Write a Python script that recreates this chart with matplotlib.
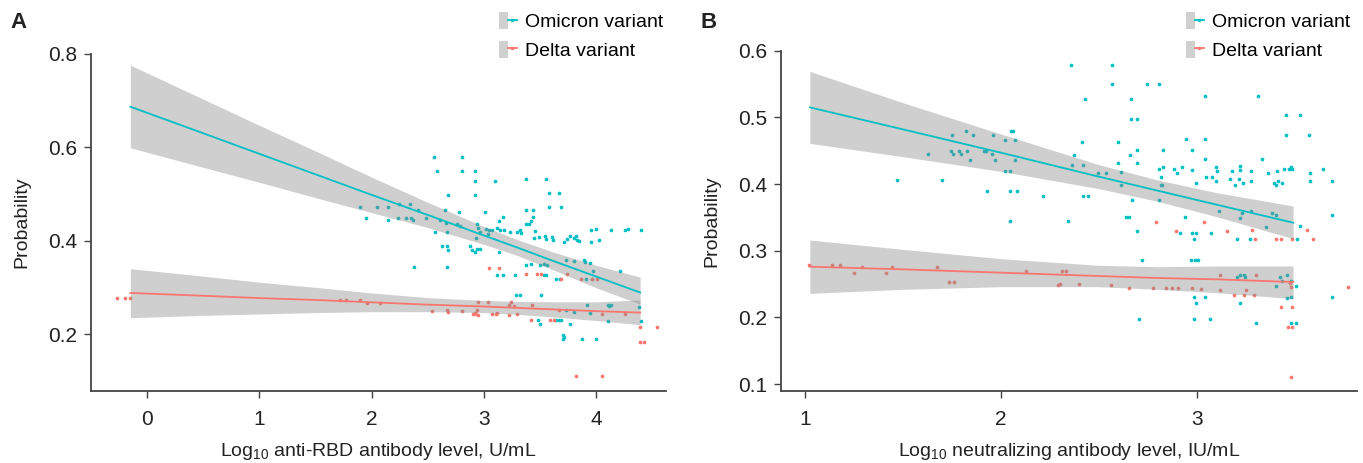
import matplotlib
matplotlib.use("Agg")
import matplotlib.pyplot as plt
from matplotlib.patches import Patch
from matplotlib.lines import Line2D
from matplotlib.legend_handler import HandlerTuple

plt.rcParams['font.family'] = ['Liberation Sans', 'DejaVu Sans']
plt.rcParams['mathtext.default'] = 'regular'

TEAL = '#00BFC4'
RED = '#F8766D'

# ---------------- Panel A data ----------------
a_omi_x = [2.556, 2.800, 2.583, 2.800, 2.922, 2.922, 3.094, 2.681, 2.922, 3.370, 3.551, 3.575, 3.664,
           3.575, 3.682, 1.894, 2.043, 2.144, 2.239, 2.337, 2.411, 1.951, 2.144, 2.230, 2.307, 2.352,
           2.369, 2.485, 2.610, 2.654, 2.776, 2.657, 2.758, 2.782, 2.562, 2.669, 2.937, 2.942, 2.960,
           3.008, 3.040, 3.070, 3.032, 3.115, 3.145, 3.130, 3.165, 3.180, 3.228, 3.293, 3.323, 3.329,
           3.370, 3.435, 3.376, 3.400, 3.418, 3.432, 3.456, 3.441, 3.492, 3.545, 3.551, 3.608, 3.614,
           3.709, 3.738, 3.768, 3.798, 3.815, 3.827, 3.845, 3.952, 4.000, 3.952, 4.023, 4.127, 4.258,
           4.279, 4.398, 2.925, 3.014, 2.625, 2.669, 2.681, 2.871, 2.892, 2.937, 2.960, 2.922, 3.130,
           2.378, 2.669, 3.115, 3.165, 3.272, 3.376, 3.421, 3.495, 3.536, 3.560, 3.536, 3.554, 3.643,
           3.679, 3.732, 3.798, 3.893, 3.902, 3.940, 3.970, 4.208, 3.908, 3.961, 3.281, 3.323, 3.510,
           3.732, 3.804, 3.917, 3.940, 4.101, 4.116, 4.130, 4.377, 4.398, 4.101, 3.643, 3.664, 3.685,
           3.477, 3.495, 3.762, 3.703, 3.715, 3.703, 3.872, 4.000]
a_omi_y = [0.579, 0.579, 0.549, 0.549, 0.549, 0.528, 0.528, 0.498, 0.498, 0.532, 0.532, 0.503, 0.503,
           0.473, 0.473, 0.473, 0.473, 0.473, 0.478, 0.478, 0.466, 0.448, 0.445, 0.448, 0.448, 0.448,
           0.445, 0.448, 0.445, 0.466, 0.462, 0.438, 0.435, 0.432, 0.418, 0.418, 0.435, 0.427, 0.418,
           0.462, 0.423, 0.423, 0.415, 0.427, 0.422, 0.443, 0.450, 0.422, 0.418, 0.419, 0.423, 0.416,
           0.466, 0.466, 0.436, 0.436, 0.443, 0.451, 0.420, 0.405, 0.407, 0.409, 0.404, 0.408, 0.402,
           0.397, 0.404, 0.409, 0.406, 0.409, 0.402, 0.400, 0.422, 0.425, 0.398, 0.401, 0.422, 0.422,
           0.425, 0.422, 0.405, 0.425, 0.388, 0.388, 0.381, 0.388, 0.381, 0.382, 0.382, 0.376, 0.375,
           0.344, 0.344, 0.327, 0.327, 0.327, 0.348, 0.351, 0.348, 0.351, 0.348, 0.327, 0.327, 0.317,
           0.317, 0.358, 0.356, 0.358, 0.354, 0.352, 0.336, 0.336, 0.317, 0.317, 0.284, 0.284, 0.284,
           0.252, 0.247, 0.262, 0.245, 0.263, 0.261, 0.263, 0.259, 0.227, 0.227, 0.231, 0.231, 0.231,
           0.230, 0.222, 0.222, 0.197, 0.194, 0.190, 0.190, 0.190]

a_del_x = [-0.27, -0.20, -0.15, 1.719, 1.767, 1.897, 1.957, 2.069, 2.536, 2.669, 2.675, 2.806, 2.901,
           2.919, 2.931, 2.945, 2.945, 3.032, 3.070, 3.109, 3.222, 3.240, 3.222, 3.293, 3.424, 3.418,
           3.590, 3.620, 3.664, 3.738, 3.863, 3.961, 4.006, 4.053, 4.258, 3.046, 3.136, 3.370, 3.471,
           3.510, 3.685, 4.392, 4.540, 4.392, 4.428, 3.821, 4.053, 2.937, 3.115, 3.263]
a_del_y = [0.278, 0.278, 0.278, 0.274, 0.274, 0.274, 0.267, 0.267, 0.249, 0.252, 0.247, 0.249, 0.244,
           0.245, 0.244, 0.269, 0.240, 0.269, 0.244, 0.244, 0.262, 0.269, 0.240, 0.244, 0.262, 0.231,
           0.231, 0.231, 0.252, 0.328, 0.317, 0.317, 0.317, 0.244, 0.244, 0.342, 0.342, 0.329, 0.329,
           0.329, 0.317, 0.215, 0.215, 0.184, 0.184, 0.110, 0.110, 0.252, 0.245, 0.261]

# fitted lines and 95% bands, panel A
a_fit_x = [-0.15, 0.5, 1.0, 1.5, 2.0, 2.5, 3.0, 3.3, 3.6, 4.0, 4.39]
a_omi_fit = [0.687, 0.630, 0.586, 0.542, 0.498, 0.455, 0.411, 0.385, 0.358, 0.323, 0.289]
a_omi_lo = [0.599, 0.557, 0.525, 0.492, 0.460, 0.428, 0.392, 0.368, 0.339, 0.299, 0.264]
a_omi_hi = [0.776, 0.703, 0.647, 0.592, 0.536, 0.482, 0.430, 0.402, 0.377, 0.347, 0.322]
a_del_fit = [0.288, 0.282, 0.277, 0.273, 0.268, 0.263, 0.259, 0.256, 0.253, 0.249, 0.246]
a_del_lo = [0.235, 0.240, 0.243, 0.246, 0.248, 0.248, 0.246, 0.242, 0.237, 0.229, 0.220]
a_del_hi = [0.340, 0.324, 0.311, 0.300, 0.288, 0.278, 0.272, 0.270, 0.269, 0.269, 0.273]

# ---------------- Panel B data ----------------
b_omi_x = [1.469, 1.699, 1.628, 1.752, 1.747, 1.757, 1.786, 1.795, 1.822, 1.825, 1.840, 1.859, 1.913,
           1.924, 1.930, 1.954, 1.958, 1.968, 2.019, 2.022, 2.046, 2.046, 2.046, 2.051, 2.059, 2.070,
           2.073, 2.080, 2.216, 2.343, 2.355, 2.360, 2.370,
           2.567, 2.567, 2.431, 2.744, 2.805, 2.661, 2.661, 2.695, 3.041, 3.313, 2.414, 2.598, 2.943,
           3.041, 2.657, 2.695, 2.829, 2.973, 3.041, 2.598, 2.695, 2.418, 2.808, 2.825, 2.817, 2.885,
           2.900, 2.922, 2.973, 3.095, 3.104, 3.048, 3.078, 3.099, 2.997, 2.613, 2.610, 2.494, 2.538,
           2.820, 3.180, 3.218, 3.221, 3.167, 3.214, 3.192, 3.233, 3.275, 3.277, 3.333, 3.360, 3.391,
           3.404, 3.411, 3.409, 3.435, 3.443, 3.469, 3.479, 3.486, 3.455, 3.527, 3.455, 3.571, 3.578,
           3.578, 3.642, 3.690, 3.690, 2.420, 2.443, 2.669, 2.808, 2.817, 2.640, 2.654, 2.695, 2.941,
           3.111, 3.221, 3.230, 3.277, 3.384, 3.403, 3.352, 2.912, 2.975, 2.997, 2.983, 3.073, 3.204,
           3.269, 2.720, 2.970, 2.992, 3.004, 3.204, 3.221, 3.238, 3.243, 3.425, 3.432, 3.459, 3.403,
           3.503, 3.460, 3.481, 2.983, 3.041, 2.995, 3.221, 2.703, 2.987, 3.068, 3.299, 3.479, 3.506,
           3.691, 3.527, 3.510, 3.481]
b_omi_y = [0.406, 0.406, 0.445, 0.473, 0.449, 0.445, 0.449, 0.445, 0.479, 0.449, 0.436, 0.473, 0.449,
           0.449, 0.390, 0.445, 0.473, 0.436, 0.466, 0.419, 0.419, 0.390, 0.344, 0.479, 0.479, 0.466,
           0.436, 0.390, 0.382, 0.344, 0.579, 0.428, 0.443,
           0.579, 0.550, 0.528, 0.550, 0.550, 0.528, 0.498, 0.498, 0.532, 0.532, 0.463, 0.463, 0.467,
           0.467, 0.443, 0.451, 0.451, 0.451, 0.437, 0.432, 0.432, 0.428, 0.423, 0.425, 0.410, 0.423,
           0.417, 0.425, 0.421, 0.425, 0.419, 0.410, 0.410, 0.405, 0.401, 0.399, 0.418, 0.417, 0.417,
           0.399, 0.420, 0.421, 0.427, 0.408, 0.408, 0.398, 0.401, 0.420, 0.405, 0.437, 0.417, 0.402,
           0.398, 0.405, 0.420, 0.402, 0.423, 0.423, 0.426, 0.423, 0.504, 0.504, 0.473, 0.473, 0.417,
           0.405, 0.423, 0.405, 0.353, 0.382, 0.382, 0.376, 0.376, 0.399, 0.351, 0.351, 0.329, 0.350,
           0.359, 0.349, 0.357, 0.359, 0.357, 0.353, 0.336, 0.327, 0.327, 0.327, 0.318, 0.327, 0.318,
           0.318, 0.286, 0.286, 0.286, 0.286, 0.260, 0.263, 0.263, 0.260, 0.260, 0.254, 0.263, 0.247,
           0.247, 0.229, 0.231, 0.231, 0.231, 0.222, 0.222, 0.198, 0.198, 0.198, 0.192, 0.192, 0.192,
           0.231, 0.337, 0.318, 0.255]

b_del_x = [1.020, 1.137, 1.180, 1.250, 1.290, 1.412, 1.446, 1.672, 1.735, 1.761, 2.127, 2.290, 2.299,
           2.312, 2.331, 2.399, 2.793, 3.038, 2.895, 3.155, 3.279, 3.561, 3.294, 3.401, 3.430, 3.483,
           3.590, 3.116, 3.299, 3.119, 3.252, 3.187, 3.238, 3.289, 3.481, 3.476, 3.430, 3.484, 3.466,
           3.486, 3.479, 3.770, 2.559, 2.654, 2.776, 2.841, 2.873, 2.904, 2.975, 3.021]
b_del_y = [0.279, 0.279, 0.279, 0.267, 0.276, 0.267, 0.276, 0.276, 0.253, 0.253, 0.270, 0.248, 0.250,
           0.270, 0.270, 0.250, 0.343, 0.343, 0.330, 0.330, 0.331, 0.331, 0.318, 0.318, 0.318, 0.318,
           0.318, 0.263, 0.263, 0.241, 0.241, 0.233, 0.233, 0.233, 0.245, 0.252, 0.216, 0.216, 0.185,
           0.185, 0.111, 0.245, 0.248, 0.244, 0.244, 0.244, 0.244, 0.244, 0.244, 0.242]

b_fit_x = [1.025, 1.5, 2.0, 2.5, 2.8, 3.1, 3.49]
b_omi_fit = [0.515, 0.482, 0.447, 0.411, 0.390, 0.369, 0.342]
b_omi_lo = [0.461, 0.441, 0.419, 0.393, 0.374, 0.351, 0.318]
b_omi_hi = [0.569, 0.522, 0.475, 0.429, 0.406, 0.387, 0.367]
b_del_fit = [0.276, 0.272, 0.267, 0.262, 0.259, 0.257, 0.253]
b_del_lo = [0.236, 0.242, 0.246, 0.246, 0.242, 0.237, 0.228]
b_del_hi = [0.316, 0.302, 0.288, 0.278, 0.276, 0.277, 0.277]

a_xticks = [0, 1, 2, 3, 4]
a_yticks = [0.2, 0.4, 0.6, 0.8]
b_xticks = [1, 2, 3]
b_yticks = [0.1, 0.2, 0.3, 0.4, 0.5, 0.6]
legend_labels = ['Omicron variant', 'Delta variant']
a_xlabel = 'Log$_{10}$ anti-RBD antibody level, U/mL'
b_xlabel = 'Log$_{10}$ neutralizing antibody level, IU/mL'

fig = plt.figure(figsize=(13.63, 4.63), dpi=100)
axA = fig.add_axes([0.0668, 0.1555, 0.4218, 0.728])
axB = fig.add_axes([0.573, 0.1555, 0.4226, 0.735])

LABEL_FONT = ['Liberation Sans', 'DejaVu Sans']
LABEL_SIZE = 14


def draw(ax, omi_x, omi_y, del_x, del_y, fx, ofit, olo, ohi, dfit, dlo, dhi,
         xlim, ylim, xticks, yticks, xlabel):
    ax.scatter(omi_x, omi_y, s=7, color=TEAL, linewidths=0, zorder=2)
    ax.scatter(del_x, del_y, s=7, color=RED, linewidths=0, zorder=2)
    ax.fill_between(fx, olo, ohi, color='#888888', alpha=0.4, linewidth=0, zorder=3)
    ax.fill_between(fx, dlo, dhi, color='#888888', alpha=0.4, linewidth=0, zorder=3)
    ax.plot(fx, ofit, color=TEAL, lw=1.3, zorder=4)
    ax.plot(fx, dfit, color=RED, lw=1.3, zorder=4)
    ax.set_xlim(*xlim)
    ax.set_ylim(*ylim)
    ax.set_xticks(xticks)
    ax.set_xticklabels([str(t) for t in xticks])
    ax.set_yticks(yticks)
    ax.set_yticklabels([f'{t:.1f}' for t in yticks])
    for side in ('top', 'right'):
        ax.spines[side].set_visible(False)
    for side in ('left', 'bottom'):
        ax.spines[side].set_color('#444444')
        ax.spines[side].set_linewidth(1.3)
    ax.spines['left'].set_bounds(ylim[0], yticks[-1])
    ax.tick_params(axis='both', labelsize=15, length=5, width=1, color='#444444',
                   labelcolor='#222222')
    ax.tick_params(axis='x', pad=9)
    ax.tick_params(axis='y', pad=5)
    ax.set_xlabel(xlabel, fontsize=LABEL_SIZE, family=LABEL_FONT, color='#222222', labelpad=8)
    ax.set_ylabel('Probability', fontsize=LABEL_SIZE, family=LABEL_FONT, color='#222222',
                  labelpad=13)


draw(axA, a_omi_x, a_omi_y, a_del_x, a_del_y, a_fit_x, a_omi_fit, a_omi_lo, a_omi_hi,
     a_del_fit, a_del_lo, a_del_hi, (-0.50, 4.62), (0.078, 0.8), a_xticks, a_yticks, a_xlabel)
draw(axB, b_omi_x, b_omi_y, b_del_x, b_del_y, b_fit_x, b_omi_fit, b_omi_lo, b_omi_hi,
     b_del_fit, b_del_lo, b_del_hi, (0.878, 3.816), (0.0895, 0.6), b_xticks, b_yticks, b_xlabel)


def make_handles():
    hs = []
    for c in (TEAL, RED):
        p = Patch(facecolor='#d0d0d0', edgecolor='none')
        l = Line2D([], [], color=c, lw=1.3, marker='o', markersize=2.5, markeredgewidth=0)
        hs.append((p, l))
    return hs


for xa in (499 / 1363, 1186 / 1363):
    fig.legend(make_handles(), legend_labels, handler_map={tuple: HandlerTuple(ndivide=None, pad=0)},
               loc='upper left', bbox_to_anchor=(xa, 1 - 12 / 463), frameon=False,
               prop={'family': LABEL_FONT, 'size': LABEL_SIZE}, handlelength=0.9, handleheight=0.95,
               handletextpad=0.45, labelspacing=0.5, borderpad=0, borderaxespad=0)

fig.text(10 / 1363, 1 - 23 / 463, 'A', fontsize=16, fontweight='bold', va='center', ha='left',
         color='#222222')
fig.text(700 / 1363, 1 - 23 / 463, 'B', fontsize=16, fontweight='bold', va='center', ha='left',
         color='#222222')

fig.savefig('out.png', dpi=100)
